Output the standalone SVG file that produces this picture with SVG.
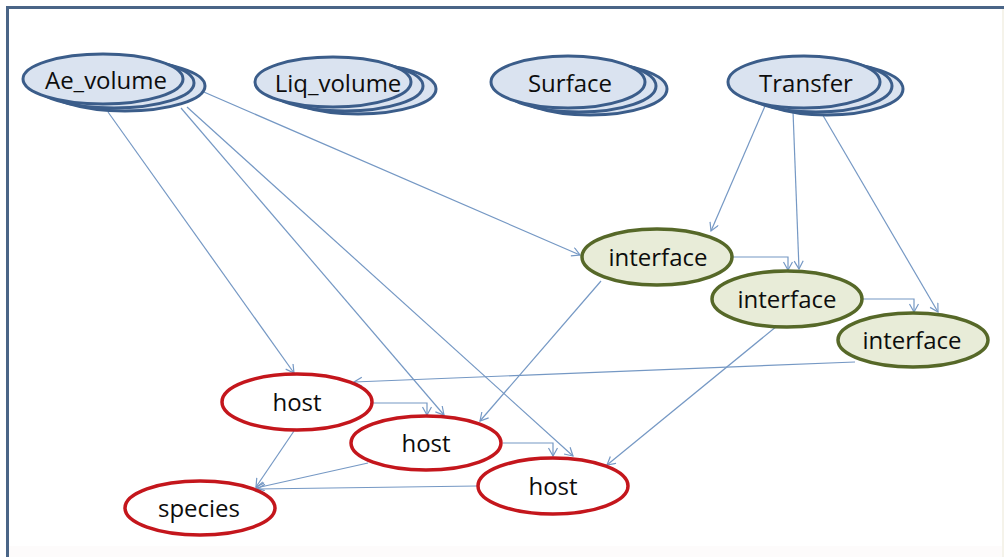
<svg xmlns="http://www.w3.org/2000/svg" width="1008" height="557" viewBox="0 0 1008 557">
<style>
.t{font-family:"Open Sans","Liberation Sans",sans-serif;font-size:24px;fill:#0d0d0d;text-anchor:middle;dominant-baseline:central}
.blue{fill:#dae3f0;stroke:#3b5d8a;stroke-width:3}
.green{fill:#e8ecd8;stroke:#566828;stroke-width:3.5}
.red{fill:#ffffff;stroke:#c4161c;stroke-width:3.5}
.e{fill:none;stroke:#7598c4;stroke-width:1.2}
</style>
<defs>
<marker id="arr" markerUnits="userSpaceOnUse" markerWidth="12" markerHeight="12" refX="9" refY="5" orient="auto">
<path d="M1,0.5 L9,5 L1,9.5" fill="none" stroke="#7598c4" stroke-width="1.2"/>
</marker>
</defs>
<rect x="0" y="0" width="1008" height="557" fill="#ffffff"/>
<rect x="8" y="546" width="996" height="11" fill="#fdfbfb"/>
<line x1="1003" y1="8" x2="1003" y2="557" stroke="#f5f3ea" stroke-width="2"/>
<line x1="6" y1="7.5" x2="1004" y2="7.5" stroke="#4a6587" stroke-width="3"/>
<line x1="7.5" y1="6" x2="7.5" y2="557" stroke="#4a6587" stroke-width="3"/>

<g id="connectors">
<line class="e" x1="108" y1="112" x2="294" y2="373" marker-end="url(#arr)"/>
<line class="e" x1="181" y1="108" x2="444" y2="415" marker-end="url(#arr)"/>
<line class="e" x1="187" y1="107" x2="573" y2="456" marker-end="url(#arr)"/>
<line class="e" x1="190" y1="86" x2="580" y2="255" marker-end="url(#arr)"/>
<line class="e" x1="765" y1="106" x2="711" y2="231" marker-end="url(#arr)"/>
<line class="e" x1="793" y1="111" x2="799" y2="269" marker-end="url(#arr)"/>
<line class="e" x1="821" y1="112" x2="938" y2="312" marker-end="url(#arr)"/>
<polyline class="e" points="733,257 788,257 788,270" marker-end="url(#arr)"/>
<polyline class="e" points="863,299 914,299 914,312" marker-end="url(#arr)"/>
<line class="e" x1="601" y1="281" x2="480" y2="421" marker-end="url(#arr)"/>
<line class="e" x1="777" y1="326" x2="607" y2="465" marker-end="url(#arr)"/>
<line class="e" x1="855" y1="362" x2="354" y2="382" marker-end="url(#arr)"/>
<polyline class="e" points="373,403 427,403 427,415" marker-end="url(#arr)"/>
<polyline class="e" points="503,443 553,443 553,456" marker-end="url(#arr)"/>
<line class="e" x1="294" y1="431" x2="256" y2="487" marker-end="url(#arr)"/>
<line class="e" x1="368" y1="463" x2="256" y2="488" marker-end="url(#arr)"/>
<line class="e" x1="477" y1="486" x2="257" y2="489" marker-end="url(#arr)"/>
</g>

<g id="ae_volume">
<ellipse class="blue" cx="125" cy="86" rx="80" ry="25"/>
<ellipse class="blue" cx="114" cy="83" rx="80" ry="25"/>
<ellipse class="blue" cx="103" cy="79" rx="80" ry="25"/>
<text class="t" x="106" y="79">Ae_volume</text>
</g>
<g id="liq_volume">
<ellipse class="blue" cx="358" cy="89" rx="78" ry="25"/>
<ellipse class="blue" cx="345" cy="86" rx="78" ry="25"/>
<ellipse class="blue" cx="333" cy="82" rx="78" ry="25"/>
<text class="t" x="338" y="82">Liq_volume</text>
</g>
<g id="surface">
<ellipse class="blue" cx="590" cy="89" rx="77" ry="26"/>
<ellipse class="blue" cx="579" cy="86" rx="77" ry="26"/>
<ellipse class="blue" cx="568" cy="82" rx="77" ry="26"/>
<text class="t" x="570" y="82">Surface</text>
</g>
<g id="transfer">
<ellipse class="blue" cx="827" cy="89" rx="76" ry="26"/>
<ellipse class="blue" cx="816" cy="86" rx="76" ry="26"/>
<ellipse class="blue" cx="804" cy="82" rx="76" ry="26"/>
<text class="t" x="806" y="82">Transfer</text>
</g>

<g id="interface1">
<ellipse class="green" cx="657" cy="257" rx="75" ry="28"/>
<text class="t" x="658" y="256">interface</text>
</g>
<g id="interface2">
<ellipse class="green" cx="787" cy="299" rx="75" ry="28"/>
<text class="t" x="787" y="298">interface</text>
</g>
<g id="interface3">
<ellipse class="green" cx="913" cy="340" rx="75" ry="27"/>
<text class="t" x="912" y="339">interface</text>
</g>

<g id="host1">
<ellipse class="red" cx="297" cy="402" rx="75" ry="28"/>
<text class="t" x="297" y="401">host</text>
</g>
<g id="host2">
<ellipse class="red" cx="426" cy="443" rx="75" ry="27"/>
<text class="t" x="426" y="442">host</text>
</g>
<g id="host3">
<ellipse class="red" cx="553" cy="486" rx="75" ry="28"/>
<text class="t" x="553" y="485">host</text>
</g>
<g id="species">
<ellipse class="red" cx="200" cy="508" rx="75" ry="27"/>
<text class="t" x="199" y="507">species</text>
</g>
</svg>
